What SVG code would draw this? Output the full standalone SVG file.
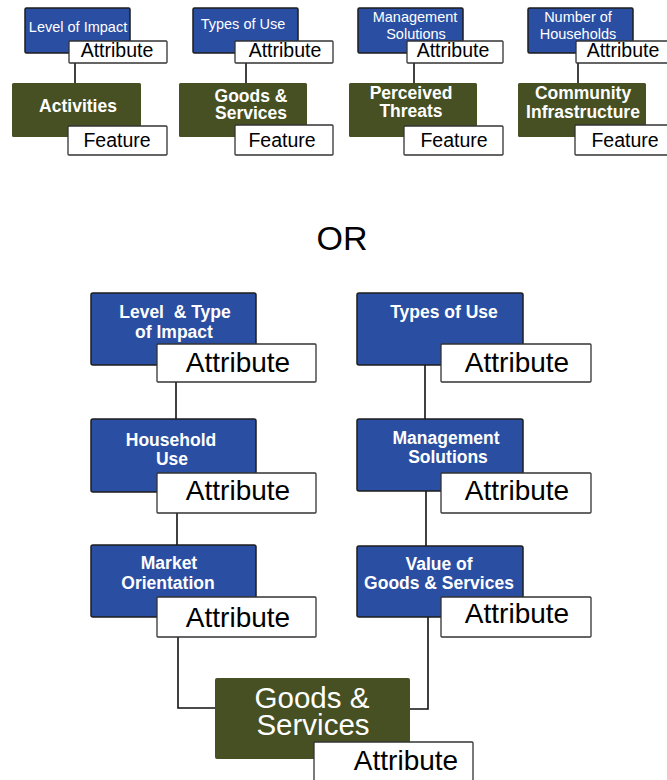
<svg xmlns="http://www.w3.org/2000/svg" width="667" height="780" viewBox="0 0 667 780">
<style>
.bg{fill:#ffffff}
.blue{fill:#2a4ea2;stroke:#1c1c1c;stroke-width:1.5}
.green{fill:#465023;stroke:none}
.tag{fill:#ffffff;stroke:#333333;stroke-width:1.3}
.wt{font-family:"Liberation Sans",Arial,sans-serif;fill:#ffffff;text-anchor:middle}
.bt{font-family:"Liberation Sans",Arial,sans-serif;fill:#000000;text-anchor:middle}
.s14{font-size:14.5px}
.b17{font-size:17.5px;font-weight:bold}
.b18{font-size:17.5px;font-weight:bold}
.a19{font-size:19.5px}
.a27{font-size:28px}
.g29{font-size:29.5px}
.conn{fill:none;stroke:#111111;stroke-width:1.6}
</style>
<rect class="bg" x="0" y="0" width="667" height="780"/>

<g id="connectors">
  <line class="conn" x1="75" y1="63" x2="75" y2="83"/>
  <line class="conn" x1="246" y1="63" x2="246" y2="83"/>
  <line class="conn" x1="414" y1="63" x2="414" y2="83"/>
  <line class="conn" x1="578" y1="63" x2="578" y2="83"/>
  <line class="conn" x1="176" y1="382" x2="176" y2="419"/>
  <line class="conn" x1="177" y1="513" x2="177" y2="545"/>
  <polyline class="conn" points="178,637 178,708 215,708"/>
  <line class="conn" x1="425" y1="365" x2="425" y2="419"/>
  <line class="conn" x1="426" y1="491" x2="426" y2="546"/>
  <polyline class="conn" points="428,617 428,709 410,709"/>
</g>

<!-- Top row -->
<g id="top-activities">
  <rect class="blue" x="25" y="8" width="105" height="45" rx="1.5"/>
  <text class="wt s14" x="78" y="32">Level of Impact</text>
  <rect class="tag" x="69" y="41" width="98" height="22" rx="1"/>
  <text class="bt a19" x="117" y="57">Attribute</text>
  <rect class="green" x="12" y="83" width="129" height="54" rx="1.5"/>
  <text class="wt b18" x="78" y="112">Activities</text>
  <rect class="tag" x="68" y="126" width="99" height="29" rx="1"/>
  <text class="bt a19" x="117" y="147">Feature</text>
</g>

<g id="top-goods">
  <rect class="blue" x="193" y="8" width="105" height="45" rx="1.5"/>
  <text class="wt s14" x="243" y="29">Types of Use</text>
  <rect class="tag" x="235" y="41" width="98" height="22" rx="1"/>
  <text class="bt a19" x="285" y="57">Attribute</text>
  <rect class="green" x="179" y="83" width="128" height="54" rx="1.5"/>
  <text class="wt b18" x="251" y="102">Goods &amp;</text>
  <text class="wt b18" x="251" y="119">Services</text>
  <rect class="tag" x="235" y="125" width="98" height="30" rx="1"/>
  <text class="bt a19" x="282" y="147">Feature</text>
</g>

<g id="top-threats">
  <rect class="blue" x="358" y="8" width="105" height="45" rx="1.5"/>
  <text class="wt s14" x="415" y="22">Management</text>
  <text class="wt s14" x="416" y="39">Solutions</text>
  <rect class="tag" x="407" y="41" width="96" height="22" rx="1"/>
  <text class="bt a19" x="453" y="57">Attribute</text>
  <rect class="green" x="349" y="83" width="128" height="54" rx="1.5"/>
  <text class="wt b18" x="411" y="99">Perceived</text>
  <text class="wt b18" x="411" y="117">Threats</text>
  <rect class="tag" x="404" y="126" width="99" height="29" rx="1"/>
  <text class="bt a19" x="454" y="147">Feature</text>
</g>

<g id="top-infrastructure">
  <rect class="blue" x="528" y="8" width="105" height="45" rx="1.5"/>
  <text class="wt s14" x="578" y="22">Number of</text>
  <text class="wt s14" x="578" y="39">Households</text>
  <rect class="tag" x="576" y="41" width="98" height="22" rx="1"/>
  <text class="bt a19" x="623" y="57">Attribute</text>
  <rect class="green" x="518" y="83" width="128" height="54" rx="1.5"/>
  <text class="wt b18" x="583" y="99">Community</text>
  <text class="wt b18" x="583" y="118">Infrastructure</text>
  <rect class="tag" x="575" y="125" width="99" height="30" rx="1"/>
  <text class="bt a19" x="625" y="147">Feature</text>
</g>

<text id="or-label" class="bt" style="font-size:34px" x="342" y="250">OR</text>

<!-- Bottom left column -->
<g id="level-type-impact">
  <rect class="blue" x="91" y="293" width="165" height="72" rx="2"/>
  <text class="wt b17" x="175" y="318" xml:space="preserve">Level  &amp; Type</text>
  <text class="wt b17" x="174" y="338">of Impact</text>
  <rect class="tag" x="157" y="344" width="159" height="38" rx="1"/>
  <text class="bt a27" x="238" y="372">Attribute</text>
</g>

<g id="household-use">
  <rect class="blue" x="91" y="419" width="165" height="73" rx="2"/>
  <text class="wt b17" x="171" y="446">Household</text>
  <text class="wt b17" x="172" y="465">Use</text>
  <rect class="tag" x="157" y="473" width="159" height="40" rx="1"/>
  <text class="bt a27" x="238" y="500">Attribute</text>
</g>

<g id="market-orientation">
  <rect class="blue" x="91" y="545" width="165" height="72" rx="2"/>
  <text class="wt b17" x="169" y="569">Market</text>
  <text class="wt b17" x="168" y="589">Orientation</text>
  <rect class="tag" x="157" y="597" width="159" height="40" rx="1"/>
  <text class="bt a27" x="238" y="627">Attribute</text>
</g>

<!-- Bottom right column -->
<g id="types-of-use">
  <rect class="blue" x="357" y="293" width="166" height="72" rx="2"/>
  <text class="wt b17" x="444" y="318">Types of Use</text>
  <rect class="tag" x="441" y="344" width="150" height="38" rx="1"/>
  <text class="bt a27" x="517" y="372">Attribute</text>
</g>

<g id="management-solutions">
  <rect class="blue" x="357" y="419" width="166" height="72" rx="2"/>
  <text class="wt b17" x="446" y="444">Management</text>
  <text class="wt b17" x="448" y="463">Solutions</text>
  <rect class="tag" x="441" y="473" width="150" height="40" rx="1"/>
  <text class="bt a27" x="517" y="500">Attribute</text>
</g>

<g id="value-goods-services">
  <rect class="blue" x="357" y="546" width="166" height="71" rx="2"/>
  <text class="wt b17" x="439" y="570">Value of</text>
  <text class="wt b17" x="439" y="589">Goods &amp; Services</text>
  <rect class="tag" x="441" y="597" width="150" height="40" rx="1"/>
  <text class="bt a27" x="517" y="623">Attribute</text>
</g>

<g id="goods-services">
  <rect class="green" x="215" y="678" width="195" height="81" rx="2"/>
  <text class="wt g29" x="312" y="708">Goods &amp;</text>
  <text class="wt g29" x="313" y="735">Services</text>
  <rect class="tag" x="314" y="742" width="159" height="42" rx="1"/>
  <text class="bt a27" x="406" y="770">Attribute</text>
</g>
</svg>
